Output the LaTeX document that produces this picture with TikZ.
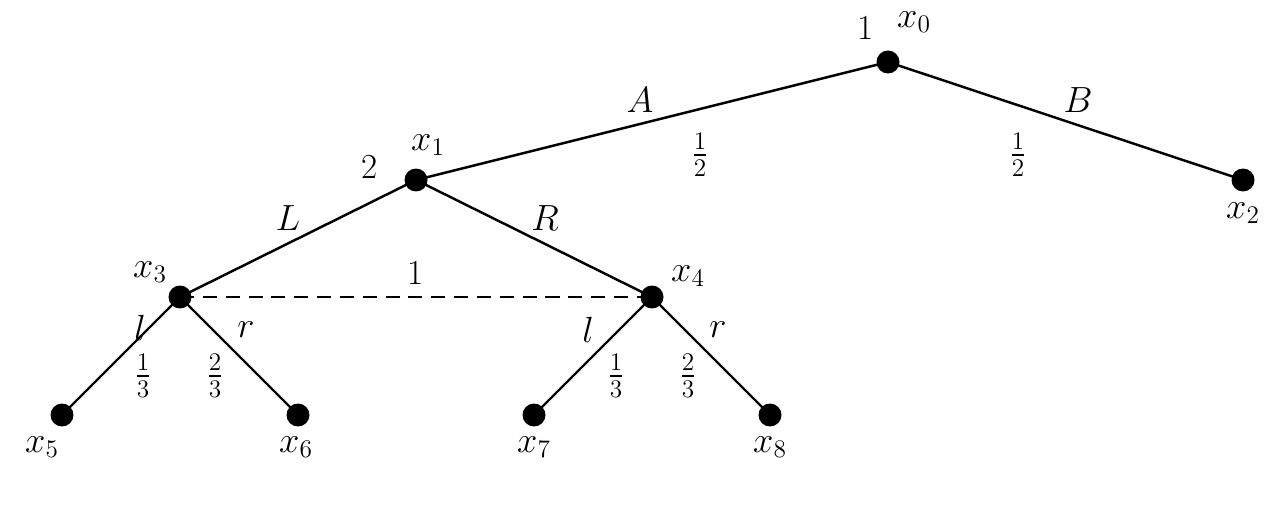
\documentclass[tikz,border=0pt]{standalone}
\usepackage{amsmath}
\usepackage{tikz}
\usetikzlibrary{positioning}
\begin{document}
\begin{tikzpicture}[x=0.02cm, y=-0.02cm,
    every node/.style={font=\fontsize{20}{24}\selectfont},
    prob/.style={font=\fontsize{22}{26}\selectfont},
    vert/.style={circle, fill=black, inner sep=0pt, minimum size=0.46cm},
    branch/.style={line width=1.4pt},
    info/.style={line width=1.4pt, dashed, dash pattern=on 8pt off 5pt},
]
\useasboundingbox (0,0) rectangle (1281,513);
% vertices
\node[vert] (x0) at (888,62) {};
\node[vert] (x1) at (416,180) {};
\node[vert] (x2) at (1243,180) {};
\node[vert] (x3) at (180,297) {};
\node[vert] (x4) at (652,297) {};
\node[vert] (x5) at (62,415) {};
\node[vert] (x6) at (298,415) {};
\node[vert] (x7) at (534,415) {};
\node[vert] (x8) at (770,415) {};
% branches
\draw[branch] (x0.center) -- (x1.center);
\draw[branch] (x0.center) -- (x2.center);
\draw[branch] (x1.center) -- (x3.center);
\draw[branch] (x1.center) -- (x4.center);
\draw[branch] (x3.center) -- (x5.center);
\draw[branch] (x3.center) -- (x6.center);
\draw[branch] (x4.center) -- (x7.center);
\draw[branch] (x4.center) -- (x8.center);
\draw[info] (x3.center) -- (x4.center);
% vertex names
\node (n0) at (914,22) {$x_0$};
\node (p0) at (866,28) {1};
\node (n1) at (428,145) {$x_1$};
\node (p1) at (370,167) {2};
\node (n2) at (1243,213) {$x_2$};
\node (n3) at (150,272) {$x_3$};
\node (n4) at (688,276) {$x_4$};
\node (n5) at (42,447) {$x_5$};
\node (n6) at (296,447) {$x_6$};
\node (n7) at (534,447) {$x_7$};
\node (n8) at (770,447) {$x_8$};
% actions and probabilities
\node (A) at (640,100) {$A$};
\node[prob] (pA) at (700,155) {$\frac{1}{2}$};
\node (B) at (1078,100) {$B$};
\node[prob] (pB) at (1018,155) {$\frac{1}{2}$};
\node (L) at (288,218) {$L$};
\node (R) at (545,218) {$R$};
\node (p34) at (416,273) {1};
\node (l3) at (140,328) {$l$};
\node (r3) at (246,330) {$r$};
\node[prob] (q5) at (143,376) {$\frac{1}{3}$};
\node[prob] (q6) at (215,376) {$\frac{2}{3}$};
\node (l4) at (588,330) {$l$};
\node (r4) at (718,330) {$r$};
\node[prob] (q7) at (616,376) {$\frac{1}{3}$};
\node[prob] (q8) at (688,376) {$\frac{2}{3}$};
\end{tikzpicture}
\end{document}
